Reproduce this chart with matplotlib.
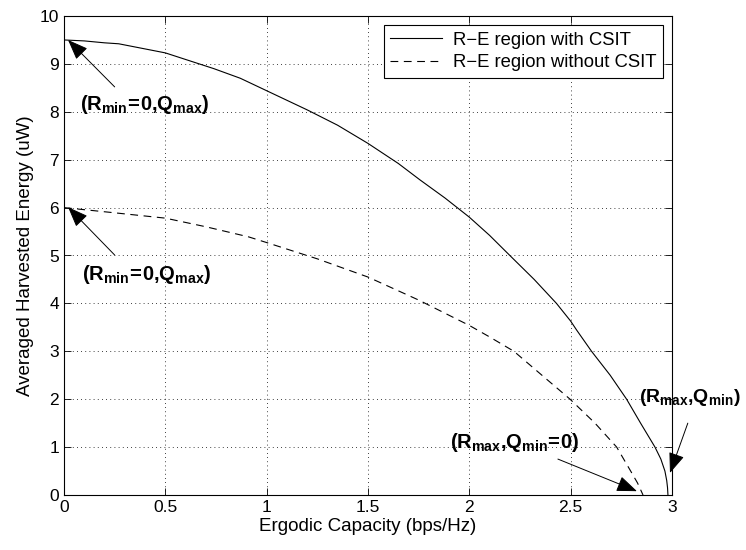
import numpy as np
import matplotlib.pyplot as plt

plt.rcParams['font.family'] = ['Liberation Sans', 'DejaVu Sans']
plt.rcParams['mathtext.fontset'] = 'custom'
plt.rcParams['mathtext.rm'] = 'Liberation Sans'
plt.rcParams['mathtext.bf'] = 'Liberation Sans:bold'

# R-E region with CSIT
cap_csit = [0.0, 0.1, 0.2, 0.27, 0.5, 0.74, 0.87, 1.0, 1.2, 1.35, 1.5, 1.65, 1.756,
            1.88, 2.0, 2.1, 2.2, 2.32, 2.43, 2.5, 2.53, 2.603, 2.695, 2.776, 2.845,
            2.916, 2.945, 2.965, 2.974, 2.978, 2.98]
eng_csit = [9.5, 9.48, 9.44, 9.42, 9.23, 8.9, 8.70, 8.44, 8.04, 7.72, 7.34, 6.92, 6.58,
            6.2, 5.8, 5.42, 5.0, 4.5, 4.0, 3.63, 3.44, 3.0, 2.5, 2.0, 1.5,
            1.0, 0.75, 0.5, 0.3, 0.15, 0.0]

# R-E region without CSIT
cap_nocsit = [0.0, 0.23, 0.5, 0.7, 0.91, 1.0, 1.25, 1.5, 1.75, 2.0, 2.1, 2.22, 2.35,
              2.497, 2.62, 2.727, 2.796, 2.83, 2.857]
eng_nocsit = [6.0, 5.9, 5.78, 5.6, 5.39, 5.27, 4.93, 4.55, 4.07, 3.54, 3.3, 3.0, 2.53,
              2.0, 1.5, 1.0, 0.5, 0.25, 0.0]

fig = plt.figure(figsize=(7.46, 5.5), dpi=100)
ax = fig.add_axes([64/746, 55/550, 608/746, 479/550])

ax.plot(cap_csit, eng_csit, 'k-', lw=0.8, label='R\u2212E region with CSIT')
ax.plot(cap_nocsit, eng_nocsit, color='k', ls=(0, (7, 5)), lw=0.8,
        label='R\u2212E region without CSIT')

ax.set_xlim(0, 3)
ax.set_ylim(0, 10)
ax.set_xticks([0, 0.5, 1, 1.5, 2, 2.5, 3])
ax.set_xticklabels(['0', '0.5', '1', '1.5', '2', '2.5', '3'])
ax.set_yticks(range(0, 11))
ax.grid(True, ls=(0, (1, 4)), color='k', lw=0.6)
ax.tick_params(direction='in', top=True, right=True, labelsize=12.5, length=5, width=0.6)
for s in ax.spines.values():
    s.set_linewidth(0.8)

ax.set_xlabel('Ergodic Capacity (bps/Hz)', fontsize=13.5, labelpad=2)
ax.set_ylabel('Averaged Harvested Energy (uW)', fontsize=13.5, labelpad=4)

leg = ax.legend(loc='upper right', fontsize=13.3, fancybox=False, edgecolor='k',
                framealpha=1, handlelength=2.8, borderaxespad=0.5,
                borderpad=0.35, labelspacing=0.3, handletextpad=0.6)
leg.get_frame().set_linewidth(0.8)

arrow = dict(arrowstyle='-|>,head_length=0.9,head_width=0.35', color='k',
             lw=0.7, mutation_scale=14, shrinkA=0, shrinkB=0)
lbl_rmin = r'$\mathbf{(R_{min}\!=\!0{,}Q_{max})}$'
lbl_qmin0 = r'$\mathbf{(R_{max}{,}Q_{min}\!=\!0)}$'
lbl_qmin = r'$\mathbf{(R_{max}{,}Q_{min})}$'

ax.text(0.08, 8.03, lbl_rmin, fontsize=14.5, va='baseline')
ax.annotate('', xy=(0.02, 9.5), xytext=(0.25, 8.52), arrowprops=arrow)
ax.text(0.09, 4.49, lbl_rmin, fontsize=14.5, va='baseline')
ax.annotate('', xy=(0.02, 6.01), xytext=(0.25, 5.01), arrowprops=arrow)
ax.text(1.904, 0.98, lbl_qmin0, fontsize=14.5, va='baseline')
ax.annotate('', xy=(2.827, 0.08), xytext=(2.437, 0.75), arrowprops=arrow)
ax.text(2.838, 1.94, lbl_qmin, fontsize=14, va='baseline', clip_on=False)
ax.annotate('', xy=(2.99, 0.46), xytext=(3.078, 1.50), arrowprops=arrow,
            annotation_clip=False)

fig.savefig('out.png', dpi=100)
